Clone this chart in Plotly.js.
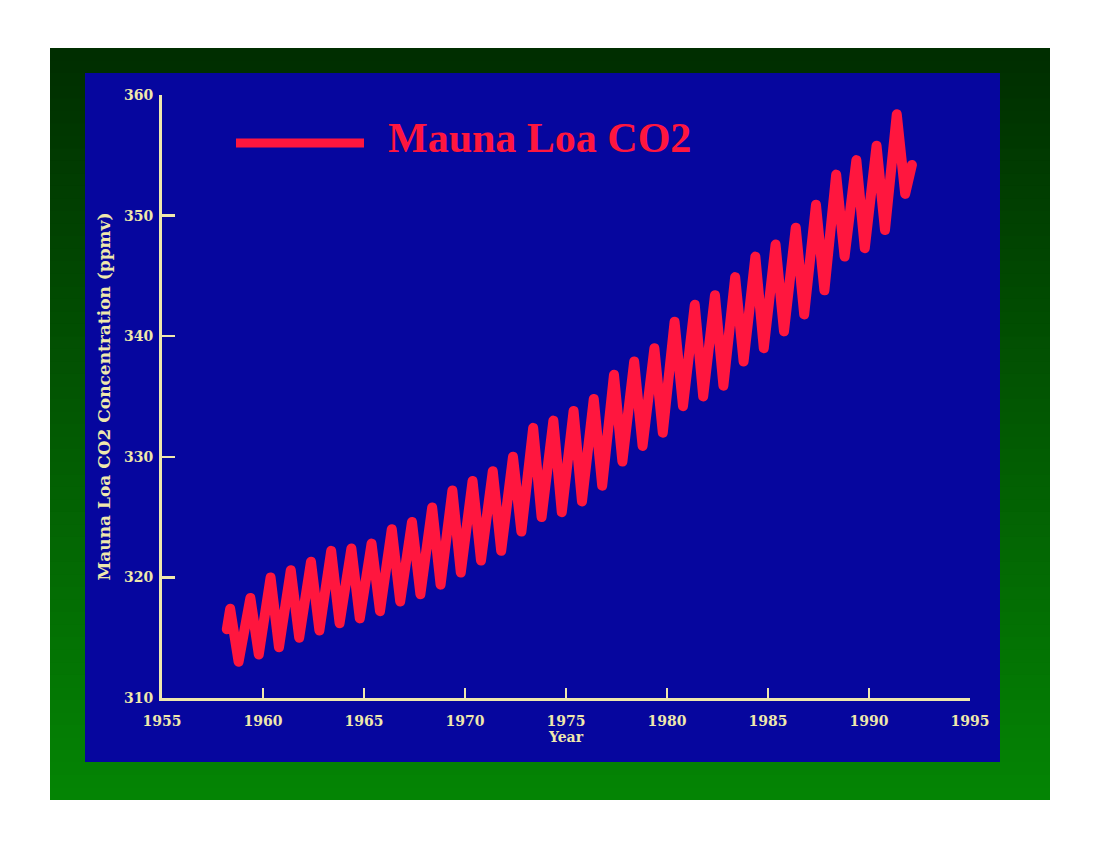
<!DOCTYPE html>
<html>
<head>
<meta charset="utf-8">
<script src="https://cdn.plot.ly/plotly-3.0.1.min.js"></script>
<style>
  html, body { margin: 0; padding: 0; background: #ffffff; }
  #chart { width: 1100px; height: 850px; }
  #chart .scatterlayer path.js-line { stroke-linejoin: round !important; stroke-linecap: round !important; }
</style>
</head>
<body>
<div id="chart"></div>
<script>
// ---- Data ----
const years = [1958,1959,1960,1961,1962,1963,1964,1965,1966,1967,1968,1969,1970,1971,1972,1973,1974,1975,1976,1977,1978,1979,1980,1981,1982,1983,1984,1985,1986,1987,1988,1989,1990,1991];
const springPeak = [317.4,318.3,320.0,320.6,321.3,322.2,322.4,322.8,324.0,324.6,325.8,327.2,328.0,328.8,330.0,332.4,333.0,333.8,334.8,336.8,337.9,339.0,341.2,342.6,343.4,344.9,346.6,347.6,349.0,350.9,353.4,354.6,355.8,358.4];
const autumnLow = [313.0,313.6,314.2,315.0,315.6,316.2,316.6,317.2,318.0,318.6,319.4,320.4,321.4,322.2,323.8,325.0,325.4,326.3,327.6,329.6,330.9,332.0,334.2,335.0,335.9,337.9,339.0,340.4,341.8,343.8,346.6,347.3,348.8,351.8];
const peakMonth = 5;   // May
const lowMonth = 10;   // October
const firstObs = {year: 1958, month: 3, value: 315.7};
const lastObs = {year: 1992, month: 2, value: 354.2};
const seriesName = "Mauna Loa CO2";
const xTicks = [1955,1960,1965,1970,1975,1980,1985,1990,1995];
const yTicks = [310,320,330,340,350,360];
const xTitle = "Year";
const yTitle = "Mauna Loa CO2 Concentration (ppmv)";

// ---- Build series ----
const decYear = (y, m) => y + (m - 0.5) / 12;
const xs = [decYear(firstObs.year, firstObs.month)];
const ys = [firstObs.value];
years.forEach((y, i) => {
  xs.push(decYear(y, peakMonth)); ys.push(springPeak[i]);
  xs.push(decYear(y, lowMonth));  ys.push(autumnLow[i]);
});
xs.push(decYear(lastObs.year, lastObs.month)); ys.push(lastObs.value);

// ---- Layout helpers (pixel -> paper) ----
const W = 1100, H = 850;
const M = {l: 162, r: 130, t: 95, b: 152};
const pw = W - M.l - M.r, ph = H - M.t - M.b;
const px = X => (X - M.l) / pw;
const py = Y => (H - M.b - Y) / ph;

const RED = "rgb(255,22,62)";
const CREAM = "#efe8ac";
const BLUE = "rgb(6,6,158)";

const shapes = [];
// green gradient frame
const fTop = 48, fBot = 800, bands = 60;
const c0 = [0, 46, 0], c1 = [4, 132, 4];
shapes.push({type: "rect", xref: "paper", yref: "paper", layer: "below",
  x0: px(50), x1: px(1050), y0: py(fTop), y1: py(fBot),
  line: {width: 0}, fillcolor: "rgb(2,88,2)"});
for (let i = 0; i < bands; i++) {
  const t = i / (bands - 1);
  const c = c0.map((v, k) => Math.round(v + (c1[k] - v) * t));
  const y0 = fTop + (fBot - fTop) * i / bands;
  const y1 = Math.min(fBot, fTop + (fBot - fTop) * (i + 1) / bands + 3);
  shapes.push({type: "rect", xref: "paper", yref: "paper", layer: "below",
    x0: px(50), x1: px(1050), y0: py(y0), y1: py(y1),
    line: {width: 0}, fillcolor: `rgb(${c[0]},${c[1]},${c[2]})`});
}
// blue panel
shapes.push({type: "rect", xref: "paper", yref: "paper", layer: "below",
  x0: px(85), x1: px(1000), y0: py(73), y1: py(762),
  line: {width: 0}, fillcolor: BLUE});
// legend sample line
shapes.push({type: "line", xref: "paper", yref: "paper",
  x0: px(236), x1: px(364), y0: py(143), y1: py(143),
  line: {color: RED, width: 9}});

const tickFont = {family: "DejaVu Serif", size: 14, color: CREAM, weight: "bold"};

const layout = {
  width: W, height: H,
  margin: M,
  paper_bgcolor: "#ffffff",
  plot_bgcolor: "rgba(0,0,0,0)",
  showlegend: false,
  shapes: shapes,
  annotations: [{
    xref: "paper", yref: "paper", x: px(386), y: py(138),
    xanchor: "left", yanchor: "middle", showarrow: false,
    text: seriesName,
    font: {family: "Liberation Serif", size: 42, color: RED, weight: "bold"}
  }],
  xaxis: {
    range: [1955, 1995], tickvals: xTicks, ticktext: xTicks.map(String),
    ticks: "inside", ticklen: 10, tickwidth: 2.5, tickcolor: CREAM,
    showline: true, linewidth: 3, linecolor: CREAM,
    showgrid: false, zeroline: false, ticklabelstandoff: 8,
    tickfont: tickFont,
    title: {text: xTitle, font: {family: "DejaVu Serif", size: 14, color: CREAM, weight: "bold"}, standoff: 4}
  },
  yaxis: {
    range: [310, 360], tickvals: yTicks, ticktext: yTicks.map(String),
    ticks: "inside", ticklen: 13, tickwidth: 2.5, tickcolor: CREAM,
    showline: true, linewidth: 3, linecolor: CREAM,
    showgrid: false, zeroline: false, ticklabelstandoff: 3,
    tickfont: tickFont,
    title: {text: yTitle, font: {family: "DejaVu Serif", size: 17, color: CREAM, weight: "bold"}, standoff: 10}
  }
};

const trace = {
  type: "scatter", mode: "lines", name: seriesName,
  x: xs, y: ys,
  line: {color: RED, width: 10},
  hoverinfo: "x+y"
};

Plotly.newPlot("chart", [trace], layout, {displayModeBar: false, staticPlot: true});
</script>
</body>
</html>
